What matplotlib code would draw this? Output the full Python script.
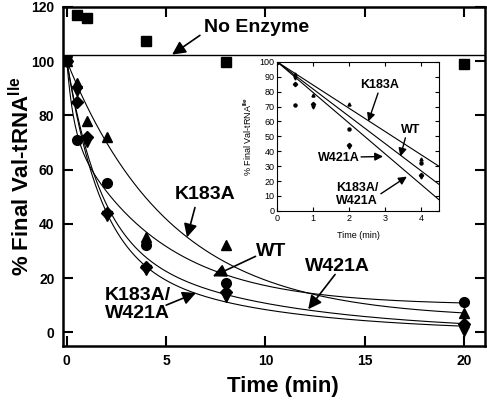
import matplotlib.pyplot as plt
import numpy as np

plt.rcParams['font.family'] = ['Liberation Sans', 'DejaVu Sans']
plt.rcParams['font.weight'] = 'bold'
plt.rcParams['mathtext.fontset'] = 'custom'
plt.rcParams['mathtext.bf'] = 'Liberation Sans:bold'
plt.rcParams['mathtext.rm'] = 'Liberation Sans'

# данные (время в минутах, % от исходного Val-tRNA)
t_wt = np.array([0, 0.5, 2, 4, 8, 20])
y_wt = np.array([100, 71, 55, 32, 18, 11])
t_k183a = np.array([0, 0.5, 1, 2, 4, 8, 20])
y_k183a = np.array([100, 92, 78, 72, 35, 32, 7])
t_dbl = np.array([0, 0.5, 1, 2, 4, 8, 20])
y_dbl = np.array([100, 85, 72, 44, 24, 15, 3])
t_w421a = np.array([0, 0.5, 1, 2, 4, 8, 20])
y_w421a = np.array([100, 89, 70, 43, 23, 13, 0.5])
t_noenz = np.array([0.5, 1, 4, 8, 20])
y_noenz = np.array([117, 116, 107.5, 99.5, 99])
noenz_level = 102.4

# параметры подгоночных кривых: a1, k1, a2, k2, c  (оценены по рисунку)
fit_k183a = (95, 0.19, 0, 0, 5)
fit_wt = (25, 3.0, 65, 0.22, 10)
fit_dbl = (65, 0.6, 35, 0.12, 0)
fit_w421a = (70, 0.6, 30, 0.13, 0)

# наклоны прямых на вставке (%/мин)
inset_slopes = [-15.6, -18.3, -20.6]

series = [
    (t_k183a, y_k183a, '^', fit_k183a),
    (t_wt, y_wt, 'o', fit_wt),
    (t_dbl, y_dbl, 'D', fit_dbl),
    (t_w421a, y_w421a, 'v', fit_w421a),
]


def curve(t, p):
    a1, k1, a2, k2, c = p
    return a1 * np.exp(-k1 * t) + a2 * np.exp(-k2 * t) + c


fig = plt.figure(figsize=(4.87, 4.04), dpi=100)
ax = fig.add_axes([0.129, 0.144, 0.867, 0.839])

tt = np.linspace(0, 20, 500)
for x, y, m, p in series:
    ax.plot(tt, curve(tt, p), color='k', lw=0.8)
    ms = 7 if m != 'D' else 6
    ax.plot(x, y, m, color='k', ms=ms, ls='none')

ax.plot(t_noenz, y_noenz, 's', color='k', ms=6.5, ls='none')
ax.axhline(noenz_level, color='k', lw=1)

ax.set_xlim(-0.2, 21.05)
ax.set_ylim(-5, 120)
ax.set_xticks([0, 5, 10, 15, 20])
ax.set_yticks([0, 20, 40, 60, 80, 100, 120])
ax.tick_params(direction='in', top=True, right=True, labeltop=False, labelright=False,
               length=7, width=1.5, labelsize=10, pad=6)
for s in ax.spines.values():
    s.set_linewidth(1.8)
ax.set_xlabel('Time (min)', fontsize=16, fontweight='bold')
ax.set_ylabel('% Final Val-tRNA$^{\\mathbf{Ile}}$', fontsize=16, fontweight='bold')
ax.xaxis.set_label_coords(0.52, -0.088)
ax.yaxis.set_label_coords(-0.068, 0.5)

arw = dict(arrowstyle='-|>', color='k', lw=1.2, mutation_scale=20, shrinkA=0, shrinkB=0)
ax.text(6.9, 112.5, 'No Enzyme', fontsize=14, fontweight='bold', ha='left', va='center')
ax.annotate('', xy=(5.3, 102.4), xytext=(6.7, 109.5), arrowprops=arw)
ax.text(6.95, 50.7, 'K183A', fontsize=14, fontweight='bold', ha='center', va='center')
ax.annotate('', xy=(6.05, 35), xytext=(6.45, 46), arrowprops=arw)
ax.text(10.3, 29.8, 'WT', fontsize=14, fontweight='bold', ha='center', va='center')
ax.annotate('', xy=(7.35, 20.6), xytext=(9.5, 28), arrowprops=arw)
ax.text(13.6, 24.3, 'W421A', fontsize=14, fontweight='bold', ha='center', va='center')
ax.annotate('', xy=(12.15, 8.5), xytext=(13.5, 21.3), arrowprops=arw)
ax.text(1.9, 10.3, 'K183A/\nW421A', fontsize=14, fontweight='bold', ha='left', va='center',
        linespacing=1.1)
ax.annotate('', xy=(6.5, 14.5), xytext=(5.0, 10), arrowprops=arw)

# вставка
ins = fig.add_axes([0.569, 0.478, 0.333, 0.369])
xl = np.array([0, 4.5])
for sl in inset_slopes:
    ins.plot(xl, 100 + sl * xl, color='k', lw=0.8)
for x, y, m, p in series:
    sel = x <= 4
    ins.plot(x[sel], y[sel], m, color='k', ms=2.2, ls='none')
ins.set_xlim(0, 4.5)
ins.set_ylim(0, 100)
ins.set_xticks([0, 1, 2, 3, 4])
ins.set_yticks(np.arange(0, 101, 10))
ins.tick_params(direction='in', top=True, right=True, length=3, width=0.8,
                labelsize=6.5, pad=2)
for lab in ins.get_xticklabels() + ins.get_yticklabels():
    lab.set_fontweight('normal')
for s in ins.spines.values():
    s.set_linewidth(0.8)
ins.set_xlabel('Time (min)', fontsize=6.5, fontweight='normal', labelpad=6)
ins.set_ylabel('% Final Val-tRNA$^{\\mathrm{Ile}}$', fontsize=6.5, fontweight='normal', labelpad=4)

arw2 = dict(arrowstyle='-|>', color='k', lw=1.0, mutation_scale=12, shrinkA=0, shrinkB=0)
ins.text(2.83, 84.5, 'K183A', fontsize=9, fontweight='bold', ha='center', va='center')
ins.annotate('', xy=(2.53, 60), xytext=(2.8, 79), arrowprops=arw2)
ins.text(3.72, 54, 'WT', fontsize=9, fontweight='bold', ha='center', va='center')
ins.annotate('', xy=(3.42, 36.5), xytext=(3.56, 49), arrowprops=arw2)
ins.text(1.72, 35.8, 'W421A', fontsize=9, fontweight='bold', ha='center', va='center')
ins.annotate('', xy=(2.94, 36.5), xytext=(2.33, 36.2), arrowprops=arw2)
ins.text(2.22, 11, 'K183A/\nW421A', fontsize=9, fontweight='bold', ha='center', va='center',
         linespacing=1.1)
ins.annotate('', xy=(3.6, 23), xytext=(2.88, 11.5), arrowprops=arw2)

fig.savefig('out.png', dpi=100)
